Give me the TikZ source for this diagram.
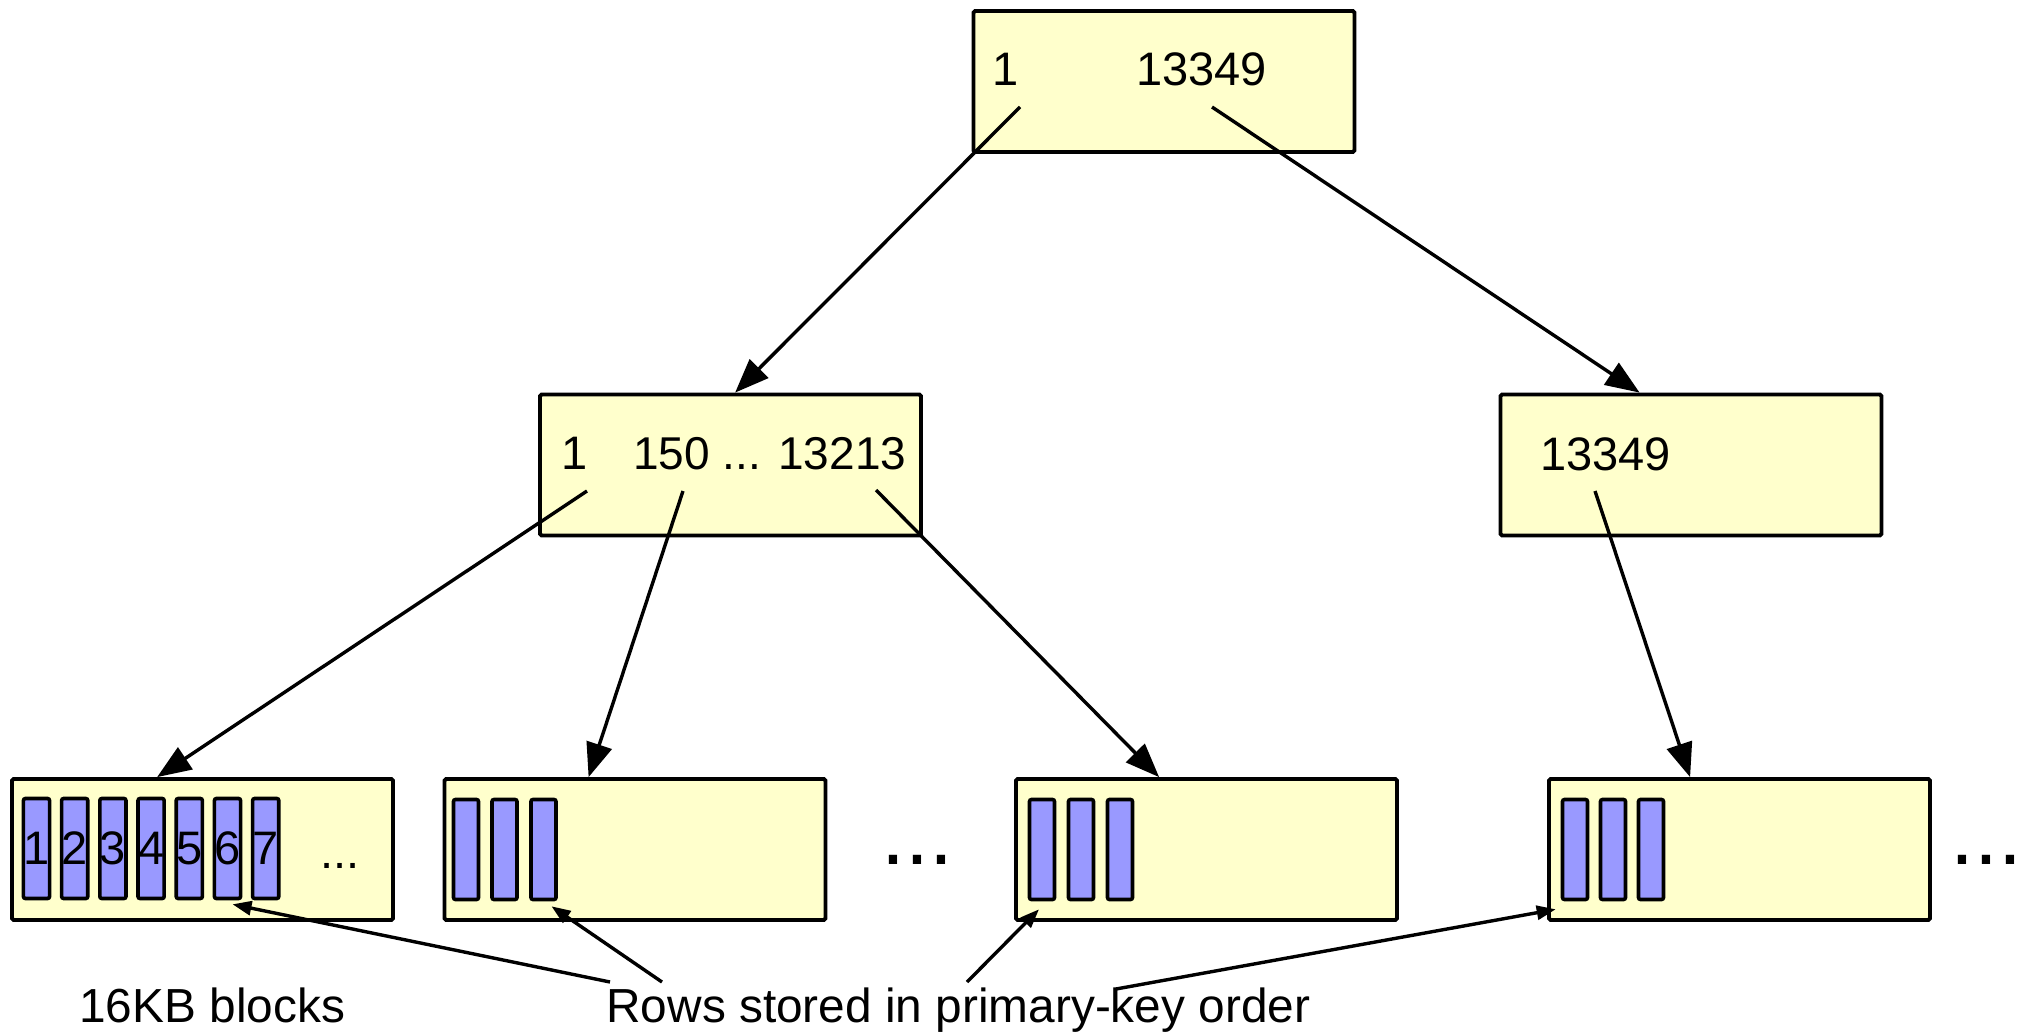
\documentclass[tikz,border=0pt]{standalone}
\usepackage{fontspec}
\setmainfont{Liberation Sans}
\usetikzlibrary{arrows.meta,calc}
\definecolor{boxfill}{HTML}{FFFFCC}
\definecolor{rowfill}{HTML}{9999FF}
\begin{document}
\begin{tikzpicture}[x=0.5pt,y=-0.5pt,
 blk/.style={draw=black,line width=1.9pt,fill=boxfill,minimum width=190.5pt,minimum height=70.5pt,inner sep=0pt,rounded corners=0.8pt},
 row/.style={draw=black,line width=1.8pt,fill=rowfill,minimum width=12.5pt,minimum height=50pt,inner sep=0pt,rounded corners=1pt,font=\fontsize{23.5}{23.5}\selectfont},
 lbl/.style={anchor=base west,inner sep=0pt,font=\fontsize{23.5}{23.5}\selectfont},
 captxt/.style={anchor=base west,inner sep=0pt,font=\fontsize{23.9}{24}\selectfont},
 bigdots/.style={anchor=base west,inner sep=0pt,font=\fontsize{43}{43}\selectfont},
 ptr/.style={line width=1.7pt,-{Triangle[length=17pt,width=13pt]}},
 note/.style={line width=1.7pt,-{Triangle[length=9.5pt,width=7pt]}}]
\useasboundingbox (0,0) rectangle (2035,1034);

% boxes
\node[blk] (top) at (1164,81.5) {};
\node[blk] (ml) at (730.5,465) {};
\node[blk] (mr) at (1691,465) {};
\node[blk] (b1) at (202.5,849.5) {};
\node[blk] (b2) at (635,849.5) {};
\node[blk] (b3) at (1206.5,849.5) {};
\node[blk] (b4) at (1739.5,849.5) {};

% labels in index boxes
\node[lbl] (tk1) at (992,85) {1};
\node[lbl] (tk2) at (1136,85) {13349};
\node[lbl] (mk1) at (561,469) {1};
\node[lbl,font=\fontsize{23}{23}\selectfont] (mk2) at (633,469) {150 ... 13213};
\node[lbl] (rk1) at (1540,470) {13349};

% rows
\node[row] (r11) at (36.5,848.5) {1};
\node[row] (r12) at (74.7,848.5) {2};
\node[row] (r13) at (112.9,848.5) {3};
\node[row] (r14) at (151.1,848.5) {4};
\node[row] (r15) at (189.3,848.5) {5};
\node[row] (r16) at (227.5,848.5) {6};
\node[row] (r17) at (265.7,848.5) {7};
\node[lbl] (b1dots) at (320,868) {...};

\node[row] (r21) at (466,849.5) {};
\node[row] (r22) at (504.5,849.5) {};
\node[row] (r23) at (543.5,849.5) {};

\node[row] (r31) at (1042,849.5) {};
\node[row] (r32) at (1081,849.5) {};
\node[row] (r33) at (1120,849.5) {};

\node[row] (r41) at (1575,849.5) {};
\node[row] (r42) at (1613,849.5) {};
\node[row] (r43) at (1651,849.5) {};

% big ellipses
\node[bigdots] (gap1) at (881,864) {...};
\node[bigdots] (gap2) at (1950,864) {...};

% captions
\node[captxt] (cap1) at (79,1022) {16KB blocks};
\node[captxt] (cap2) at (606,1022) {Rows stored in primary-key order};

% tree pointers
\coordinate (s1) at (1020,107);
\coordinate (s2) at (1212,107);
\coordinate (s3) at (587,491);
\coordinate (s4) at (683,491);
\coordinate (s5) at (876,490);
\coordinate (s6) at (1595,491);
\draw[ptr] (s1) -- ($(ml.north west)+(197,0)$);
\draw[ptr] (s2) -- ($(mr.north west)+(141,0)$);
\draw[ptr] (s3) -- ($(b1.north west)+(147,0)$);
\draw[ptr] (s4) -- ($(b2.north west)+(146,0)$);
\draw[ptr] (s5) -- ($(b3.north west)+(145,0)$);
\draw[ptr] (s6) -- ($(b4.north west)+(143,0)$);

% annotation pointers
\coordinate (n1) at (610,982);
\coordinate (n2) at (662,982);
\coordinate (n3) at (967,982);
\coordinate (n4) at (1116,989);
\draw[note] (n1) -- ($(r16.south)+(5,4)$);
\draw[note] (n2) -- ($(r23.south)+(8,5)$);
\draw[note] (n3) -- ($(r31.south)+(-3,8)$);
\draw[note] (n4) -- ($(r41.south west)+(-5,8)$);
\end{tikzpicture}
\end{document}
